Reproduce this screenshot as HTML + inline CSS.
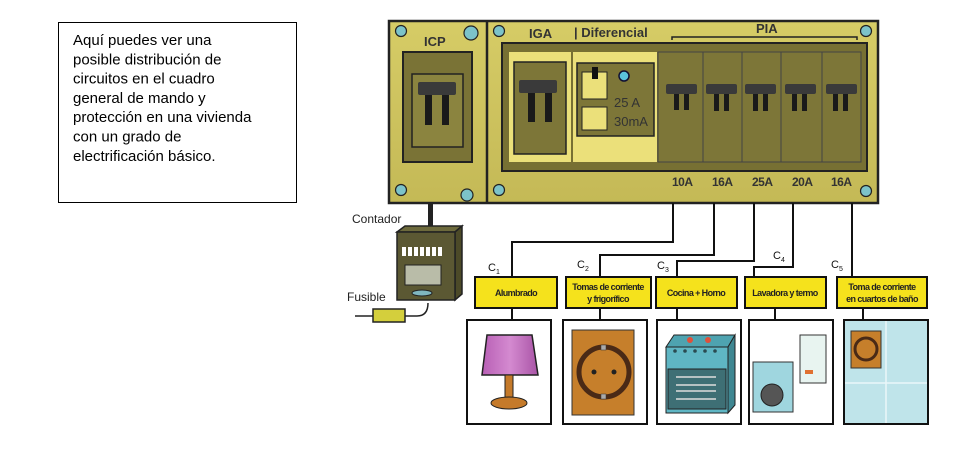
<!DOCTYPE html>
<html><head><meta charset="utf-8"><style>
html,body{margin:0;padding:0;background:#fff;}
svg{display:block;}
.t{font-family:"Liberation Sans",Arial,sans-serif;}
</style></head><body>
<svg width="979" height="474" viewBox="0 0 979 474" xmlns="http://www.w3.org/2000/svg">
<defs>
<linearGradient id="pg" x1="0" y1="0" x2="0" y2="1"><stop offset="0" stop-color="#d6cc66"/><stop offset="1" stop-color="#c4b956"/></linearGradient>
<linearGradient id="lg" x1="0" y1="0" x2="1" y2="0"><stop offset="0" stop-color="#b85fb5"/><stop offset="0.5" stop-color="#d48ad0"/><stop offset="1" stop-color="#a954a6"/></linearGradient>
</defs>
<!-- text box -->
<rect x="58.5" y="22.5" width="238" height="180" fill="#fff" stroke="#000" stroke-width="1"/>
<g class="t" font-size="15" fill="#000">
<text x="73" y="45">Aquí puedes ver una</text>
<text x="73" y="64.3">posible distribución de</text>
<text x="73" y="83.6">circuitos en el cuadro</text>
<text x="73" y="102.9">general de mando y</text>
<text x="73" y="122.2">protección en una vivienda</text>
<text x="73" y="141.5">con un grado de</text>
<text x="73" y="160.8">electrificación básico.</text>
</g>

<!-- panel -->
<rect x="389" y="21" width="489" height="182" fill="url(#pg)" stroke="#222" stroke-width="2.5"/>
<line x1="487" y1="21" x2="487" y2="203" stroke="#222" stroke-width="2.5"/>
<!-- ICP -->
<rect x="403" y="52" width="69" height="110" fill="#7a7336" stroke="#222" stroke-width="2"/>
<rect x="412" y="74" width="51" height="73" fill="#8b843f" stroke="#222" stroke-width="1.5"/>
<rect x="425" y="85" width="7" height="40" fill="#1a1a1a"/><rect x="442" y="85" width="7" height="40" fill="#1a1a1a"/>
<rect x="418" y="82" width="38" height="13" rx="2" fill="#3a3a3a"/>
<text x="424" y="46" class="t" font-size="13" font-weight="bold" fill="#333">ICP</text>
<!-- main inner -->
<rect x="502" y="43" width="365" height="128" fill="#777033" stroke="#222" stroke-width="2"/>
<rect x="509" y="52" width="62" height="110" fill="#ebe07a"/>
<rect x="573" y="52" width="84" height="110" fill="#ebe07a"/>
<rect x="514" y="62" width="52" height="92" fill="#7d7638" stroke="#222" stroke-width="1.5"/>
<rect x="528" y="80" width="7" height="42" fill="#1a1a1a"/><rect x="545" y="80" width="7" height="42" fill="#1a1a1a"/>
<rect x="519" y="80" width="38" height="13" rx="2" fill="#3a3a3a"/>
<rect x="577" y="63" width="77" height="73" fill="#7d7638" stroke="#222" stroke-width="1.5"/>
<rect x="582" y="72" width="25" height="27" fill="#ebe07a" stroke="#222" stroke-width="1"/>
<rect x="582" y="107" width="25" height="23" fill="#ebe07a" stroke="#222" stroke-width="1"/>
<rect x="592" y="67" width="6" height="12" fill="#111"/>
<circle cx="624" cy="76" r="5" fill="#5bc4dc" stroke="#113" stroke-width="1.5"/>
<text x="614" y="107" class="t" font-size="13" fill="#333">25 A</text>
<text x="614" y="126" class="t" font-size="13" fill="#333">30mA</text>
<g fill="#7d7638" stroke="#444" stroke-width="1">
<rect x="658" y="52" width="45" height="110"/><rect x="703" y="52" width="39" height="110"/><rect x="742" y="52" width="39" height="110"/><rect x="781" y="52" width="41" height="110"/><rect x="822" y="52" width="39" height="110"/>
</g>
<g fill="#1a1a1a">
<rect x="674" y="84" width="5" height="26"/><rect x="684" y="84" width="5" height="26"/>
<rect x="714" y="84" width="5" height="27"/><rect x="724" y="84" width="5" height="27"/>
<rect x="753" y="84" width="5" height="27"/><rect x="763" y="84" width="5" height="27"/>
<rect x="792" y="84" width="5" height="27"/><rect x="802" y="84" width="5" height="27"/>
<rect x="833" y="84" width="5" height="27"/><rect x="843" y="84" width="5" height="27"/>
</g>
<g fill="#3a3a3a">
<rect x="666" y="84" width="31" height="10" rx="2"/><rect x="706" y="84" width="31" height="10" rx="2"/><rect x="745" y="84" width="31" height="10" rx="2"/><rect x="785" y="84" width="31" height="10" rx="2"/><rect x="826" y="84" width="31" height="10" rx="2"/>
</g>
<g class="t" font-size="13" font-weight="bold" fill="#333">
<text x="529" y="38">IGA</text>
<text x="574" y="37">| Diferencial</text>
<text x="756" y="33">PIA</text>
</g>
<g class="t" font-size="12" font-weight="bold" fill="#333" letter-spacing="-0.5">
<text x="672" y="186">10A</text><text x="712" y="186">16A</text><text x="752" y="186">25A</text><text x="792" y="186">20A</text><text x="831" y="186">16A</text>
</g>
<polyline points="672,40 672,37 857,37 857,40" fill="none" stroke="#222" stroke-width="1.5"/>
<g fill="#7cc3c9" stroke="#222" stroke-width="1.2">
<circle cx="401" cy="31" r="5.5"/><circle cx="401" cy="190" r="5.5"/><circle cx="499" cy="31" r="5.5"/><circle cx="499" cy="190" r="5.5"/><circle cx="866" cy="31" r="5.5"/><circle cx="866" cy="191" r="5.5"/>
<circle cx="471" cy="33" r="7"/><circle cx="467" cy="195" r="6"/>
</g>

<!-- contador -->
<text x="352" y="223" class="t" font-size="12" fill="#222">Contador</text>
<rect x="428" y="203" width="5" height="28" fill="#222"/>
<polygon points="397,232 405,226 462,226 455,232" fill="#6d6a3c" stroke="#222" stroke-width="1.5"/>
<polygon points="455,232 462,226 462,294 455,300" fill="#4c4a28" stroke="#222" stroke-width="1.5"/>
<rect x="397" y="232" width="58" height="68" fill="#5b5833" stroke="#222" stroke-width="1.5"/>
<g fill="#fff"><rect x="402" y="247" width="4" height="9"/><rect x="408" y="247" width="4" height="9"/><rect x="414" y="247" width="4" height="9"/><rect x="420" y="247" width="4" height="9"/><rect x="426" y="247" width="4" height="9"/><rect x="432" y="247" width="4" height="9"/><rect x="438" y="247" width="4" height="9"/></g>
<rect x="405" y="265" width="36" height="20" fill="#b9bca8" stroke="#222" stroke-width="1"/>
<ellipse cx="422" cy="293" rx="10" ry="3" fill="#7fb6c0" stroke="#222"/>
<text x="347" y="301" class="t" font-size="12" fill="#222">Fusible</text>
<path d="M355 316 L373 316 M405 316 L417 316 Q428 316 428 303" fill="none" stroke="#222" stroke-width="1.5"/>
<rect x="373" y="309" width="32" height="13" fill="#d4cf3c" stroke="#222" stroke-width="1.5"/>

<!-- wires -->
<g fill="none" stroke="#111" stroke-width="2">
<polyline points="673,203 673,242 512,242 512,277"/>
<polyline points="714,203 714,255 600,255 600,277"/>
<polyline points="754,203 754,261 677,261 677,277"/>
<polyline points="793,203 793,267 754,267 754,277"/>
<polyline points="852,203 852,277"/>
<line x1="512" y1="308" x2="512" y2="319"/><line x1="600" y1="308" x2="600" y2="319"/><line x1="677" y1="308" x2="677" y2="319"/><line x1="775" y1="308" x2="775" y2="319"/><line x1="863" y1="308" x2="863" y2="319"/>
</g>
<g class="t" font-size="11" fill="#111">
<text x="488" y="271">C<tspan font-size="7" dy="3">1</tspan></text>
<text x="577" y="268">C<tspan font-size="7" dy="3">2</tspan></text>
<text x="657" y="269">C<tspan font-size="7" dy="3">3</tspan></text>
<text x="773" y="259">C<tspan font-size="7" dy="3">4</tspan></text>
<text x="831" y="268">C<tspan font-size="7" dy="3">5</tspan></text>
</g>
<!-- label boxes -->
<g fill="#f5e21c" stroke="#111" stroke-width="2">
<rect x="475" y="277" width="82" height="31"/><rect x="566" y="277" width="85" height="31"/><rect x="656" y="277" width="81" height="31"/><rect x="745" y="277" width="81" height="31"/><rect x="837" y="277" width="90" height="31"/>
</g>
<g class="t" font-size="9" font-weight="bold" fill="#222" text-anchor="middle" letter-spacing="-0.6">
<text x="516" y="296">Alumbrado</text>
<text x="608" y="290">Tomas de corriente</text><text x="608" y="302">y frigorífico</text>
<text x="696" y="296">Cocina + Horno</text>
<text x="785" y="296">Lavadora y termo</text>
<text x="882" y="290">Toma de corriente</text><text x="882" y="302">en cuartos de baño</text>
</g>
<!-- image boxes -->
<g fill="#fff" stroke="#111" stroke-width="2">
<rect x="467" y="320" width="84" height="104"/><rect x="563" y="320" width="84" height="104"/><rect x="657" y="320" width="84" height="104"/><rect x="749" y="320" width="84" height="104"/>
</g>
<rect x="844" y="320" width="84" height="104" fill="#bfe4ea" stroke="#111" stroke-width="2"/>
<line x1="886" y1="321" x2="886" y2="423" stroke="#eaf7f9" stroke-width="1.5"/><line x1="845" y1="383" x2="927" y2="383" stroke="#eaf7f9" stroke-width="1.5"/>
<!-- lamp -->
<polygon points="487,335 532,335 538,375 482,375" fill="url(#lg)" stroke="#222" stroke-width="1.5"/>
<rect x="505" y="375" width="8" height="27" fill="#c57a2a" stroke="#222"/>
<ellipse cx="509" cy="403" rx="18" ry="6" fill="#c57a2a" stroke="#222"/>
<!-- socket -->
<rect x="572" y="330" width="62" height="85" fill="#c67f2b" stroke="#333"/>
<circle cx="604" cy="372" r="25" fill="#c67f2b" stroke="#4a2a16" stroke-width="5"/>
<rect x="601" y="345" width="5" height="5" fill="#aaa" stroke="#333" stroke-width="0.5"/>
<rect x="601" y="394" width="5" height="5" fill="#aaa" stroke="#333" stroke-width="0.5"/>
<circle cx="594" cy="372" r="2.5" fill="#222"/><circle cx="614" cy="372" r="2.5" fill="#222"/>
<!-- oven -->
<polygon points="666,347 674,335 735,335 728,347" fill="#4ea3b0" stroke="#222"/>
<circle cx="690" cy="340" r="3" fill="#e0503a"/><circle cx="708" cy="340" r="3" fill="#e0503a"/>
<polygon points="728,347 735,335 735,405 728,413" fill="#3f8792" stroke="#222"/>
<rect x="666" y="347" width="62" height="66" fill="#5fb6c4" stroke="#222"/>
<g fill="#2a4a50"><circle cx="675" cy="351" r="1.8"/><circle cx="685" cy="351" r="1.8"/><circle cx="695" cy="351" r="1.8"/><circle cx="705" cy="351" r="1.8"/><circle cx="715" cy="351" r="1.8"/></g>
<rect x="668" y="369" width="58" height="40" fill="#3e6f75" stroke="#222"/>
<g stroke="#ddd" stroke-width="1.5"><line x1="676" y1="377" x2="716" y2="377"/><line x1="676" y1="385" x2="716" y2="385"/><line x1="676" y1="391" x2="716" y2="391"/><line x1="676" y1="399" x2="716" y2="399"/></g>
<!-- washer -->
<rect x="800" y="335" width="26" height="48" fill="#e8f4f0" stroke="#333"/>
<rect x="805" y="370" width="8" height="4" fill="#e07030"/>
<rect x="753" y="362" width="40" height="50" fill="#9fd6df" stroke="#333"/>
<circle cx="772" cy="395" r="11" fill="#555" stroke="#222"/>
<!-- bath socket -->
<rect x="851" y="331" width="30" height="37" fill="#c67f2b" stroke="#333"/>
<circle cx="866" cy="349" r="11" fill="none" stroke="#4a2a16" stroke-width="3"/>
</svg>
</body></html>
